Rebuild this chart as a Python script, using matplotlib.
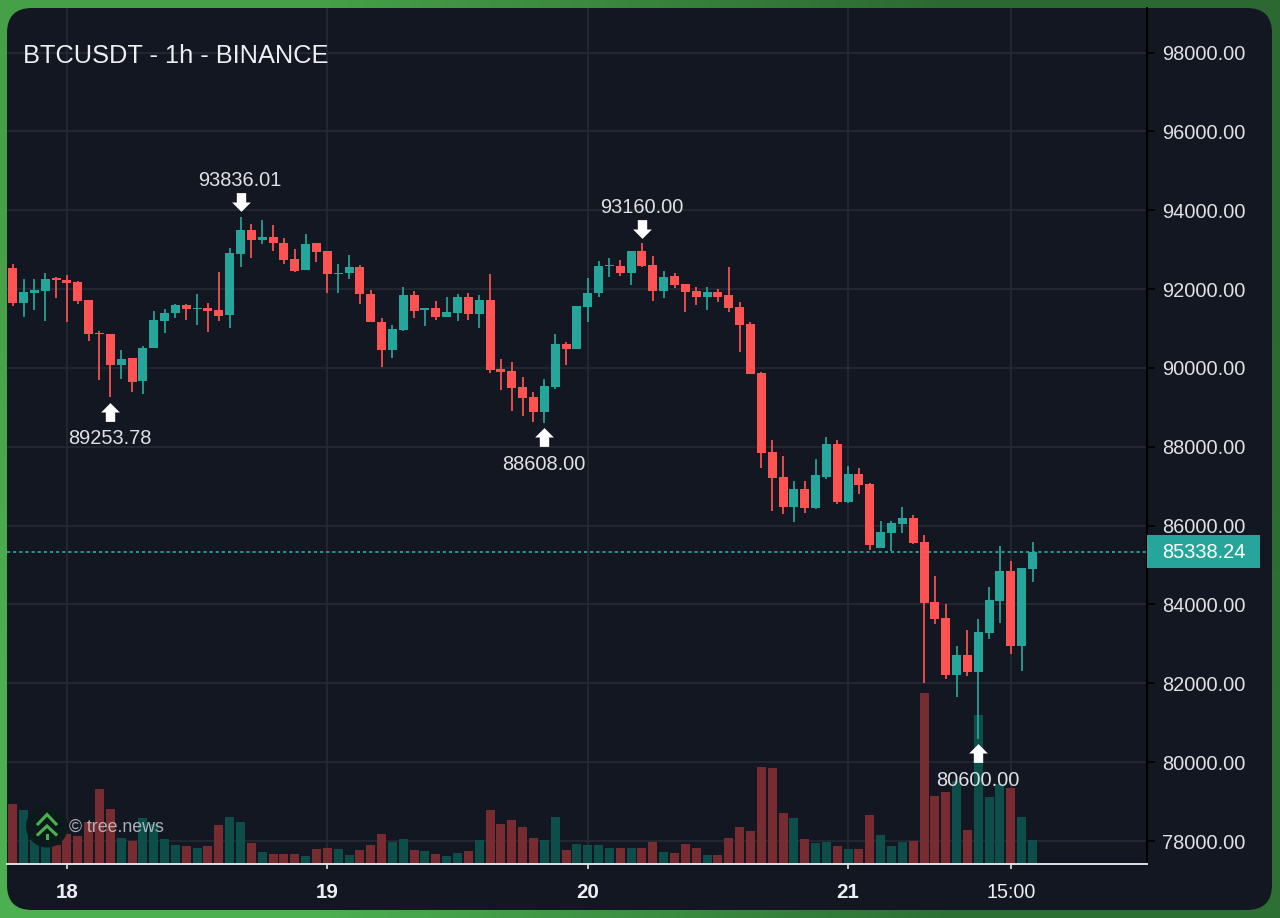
#!/usr/bin/env python3

import numpy as np
import matplotlib
matplotlib.use('Agg')
import matplotlib.pyplot as plt
from matplotlib.patches import FancyBboxPatch, Circle, Rectangle
from matplotlib.path import Path
from matplotlib.transforms import offset_copy

plt.rcParams['font.family'] = ['Liberation Sans', 'DejaVu Sans']

opens = [92546, 91656, 91908, 91958, 92269, 92227, 92176, 91723, 90891, 90866,
         90085, 90244, 89656, 90496, 91194, 91387, 91588, 91496, 91521, 91471,
         91336, 92890, 93504, 93235, 93319, 93176, 92764, 92479, 93168, 92958,
         92386, 92412, 92571, 91882, 91177, 90446, 90967, 91857, 91462, 91513,
         91294, 91404, 91798, 91378, 91714, 89967, 89925, 89513, 89262, 88884,
         89505, 90606, 90471, 91544, 91890, 92575, 92592, 92414, 92963, 92608,
         91949, 92321, 92127, 91949, 91789, 91932, 91839, 91544, 91104, 89879,
         87868, 87234, 86482, 86930, 86440, 87234, 88079, 86609, 87302, 87052,
         85427, 85823, 86051, 86194, 85579, 84055, 83659, 82203, 82725, 82295,
         83280, 84097, 84846, 82935, 84905]
highs = [92647, 92244, 92244, 92395, 92294, 92361, 92210, 91723, 90925, 90866,
         90463, 90244, 90547, 91446, 91488, 91630, 91614, 91882, 91656, 92445,
         93033, 93836, 93655, 93756, 93613, 93285, 93025, 93403, 93168, 92958,
         92630, 92857, 92613, 91975, 91261, 91101, 92042, 91941, 91513, 91698,
         91790, 91882, 91908, 91857, 92378, 90236, 90152, 89766, 89396, 89715,
         90858, 90648, 91580, 92287, 92718, 92794, 92735, 92972, 93160, 92837,
         92448, 92414, 92127, 92059, 92042, 91992, 92549, 91679, 91155, 89904,
         88172, 87775, 87141, 87141, 87682, 88257, 88172, 87505, 87454, 87069,
         86126, 86126, 86463, 86261, 85756, 84720, 84013, 82935, 83348, 83634,
         84442, 85478, 85099, 84922, 85579]
lows = [91572, 91286, 91471, 91202, 91773, 91168, 91614, 90673, 89698, 89253,
        89724, 89388, 89337, 90496, 90883, 91261, 91219, 91084, 90900, 91194,
        91000, 92563, 92798, 93142, 92966, 92638, 92437, 92479, 92697, 91899,
        91899, 92252, 91630, 91152, 90018, 90261, 90933, 91261, 91068, 91219,
        91294, 91202, 91227, 91017, 89883, 89446, 88900, 88783, 88632, 88608,
        89455, 90068, 90471, 91172, 91806, 92296, 92338, 92110, 92549, 91687,
        91772, 92017, 91425, 91586, 91468, 91670, 91425, 90411, 89837, 87462,
        86381, 86288, 86094, 86313, 86415, 87192, 86558, 86575, 86812, 85369,
        85427, 85352, 85823, 85545, 82000, 83516, 82102, 81664, 82186, 80600,
        83129, 83533, 82733, 82320, 84560]
closes = [91656, 91924, 91966, 92244, 92227, 92151, 91706, 90866, 90849, 90085,
          90236, 89648, 90513, 91219, 91404, 91597, 91496, 91530, 91446, 91328,
          92907, 93504, 93235, 93319, 93168, 92748, 92462, 93151, 92932, 92386,
          92420, 92563, 91866, 91152, 90446, 90992, 91857, 91446, 91513, 91286,
          91420, 91790, 91370, 91714, 89950, 89908, 89488, 89245, 88875, 89530,
          90614, 90480, 91563, 91907, 92592, 92600, 92397, 92963, 92592, 91949,
          92313, 92101, 91924, 91789, 91932, 91806, 91510, 91079, 89837, 87851,
          87209, 86474, 86930, 86457, 87276, 88079, 86592, 87302, 87031, 85512,
          85832, 86059, 86194, 85562, 84030, 83634, 82203, 82725, 82295, 83297,
          84114, 84846, 82935, 84922, 85338]
volumes = [60, 54, 25, 23, 19, 30, 28, 42, 75, 55,
           26, 23, 46, 40, 25, 19, 18, 16, 18, 39,
           47, 42, 21, 12, 10, 10, 10, 8, 15, 16,
           15, 9, 14, 19, 30, 22, 25, 14, 13, 10,
           8, 11, 13, 24, 54, 40, 44, 37, 26, 24,
           47, 14, 20, 19, 19, 16, 16, 16, 16, 22,
           12, 11, 20, 16, 9, 9, 26, 37, 33, 97,
           96, 51, 46, 25, 21, 22, 18, 15, 15, 49,
           29, 18, 22, 23, 171, 68, 72, 83, 34, 149,
           67, 80, 76, 47, 24]

price_ticks = [98000, 96000, 94000, 92000, 90000, 88000, 86000, 84000, 82000, 80000, 78000]
time_ticks = [5, 29, 53, 77, 92]
time_labels = ['18', '19', '20', '21', '15:00']
last_price = 85338.24

high_marks = [(21, 93836.01), (58, 93160.00)]
low_marks = [(9, 89253.78), (49, 88608.00), (89, 80600.00)]

UP = '#26a69a'
DOWN = '#ff5252'
BG = '#131722'
TEXT = '#dfe1e5'
GRID = '#262a35'

W, H = 1280, 918
YMIN, YMAX = 77417, 99129
fig = plt.figure(figsize=(W / 100, H / 100), dpi=100)

# border gradient and rounded panel, in pixel coords
back = fig.add_axes([0, 0, 1, 1], zorder=0)
back.set_xlim(0, W)
back.set_ylim(H, 0)
back.axis('off')
grad = np.array([[[70, 160, 72], [44, 104, 50]],
                 [[76, 175, 80], [44, 112, 52]]], dtype=np.uint8)
back.imshow(grad, extent=(0, W, H, 0), aspect='auto', interpolation='bilinear')
back.add_patch(FancyBboxPatch((32, 33), 1215, 852, boxstyle='round,pad=25,rounding_size=25',
                              fc=BG, ec='none'))

ax = fig.add_axes([7 / W, (H - 864) / H, 1140 / W, 856 / H], zorder=2)
ax.patch.set_visible(False)
ax.set_xlim(-0.525, 104.55)
ax.set_ylim(YMIN, YMAX)

idx = np.arange(len(opens))
is_up = np.array(closes) >= np.array(opens)

# volume sits in the bottom of the price pane, scaled to price units
vol_scale = (YMAX - YMIN) / 856
ax.bar(idx, np.array(volumes) * vol_scale, bottom=YMIN, width=0.83,
       color=['#0d524e' if u else '#7f2e33' for u in is_up], alpha=0.93, linewidth=0, zorder=1)

candle_colors = [UP if u else DOWN for u in is_up]
ax.vlines(idx, lows, highs, colors=candle_colors, linewidth=1.25, zorder=3)
ax.bar(idx, np.abs(np.array(closes) - np.array(opens)), bottom=np.minimum(opens, closes),
       width=0.83, color=candle_colors, linewidth=0, zorder=4)

ax.grid(True, color=GRID, linewidth=1.2)
ax.set_axisbelow(True)

ax.yaxis.tick_right()
ax.set_yticks(price_ticks)
ax.set_yticklabels(['%.2f' % p for p in price_ticks], fontsize=14.4, color=TEXT)
ax.tick_params(axis='y', length=5.8, width=1.2, color='black', pad=5.3)
ax.set_xticks(time_ticks)
ax.set_xticklabels(time_labels, fontsize=14.2, color='#eceef2')
for lab in ax.get_xticklabels()[:4]:
    lab.set_fontweight('bold')
    lab.set_fontsize(14.8)
ax.tick_params(axis='x', length=3.6, width=1.2, color=TEXT, pad=10)

for side in ['top', 'left']:
    ax.spines[side].set_visible(False)
ax.spines['right'].set_color('black')
ax.spines['right'].set_linewidth(1.5)
ax.spines['bottom'].set_color(TEXT)
ax.spines['bottom'].set_linewidth(1.4)

ax.axhline(last_price, color=UP, linewidth=1.3, linestyle=(0, (1.7, 1.7)), zorder=2)

# signal arrows
arrow_up = Path([(0, 0.5), (0.5, 0), (0.25, 0), (0.25, -0.5), (-0.25, -0.5), (-0.25, 0), (-0.5, 0), (0, 0.5)], closed=True)
arrow_down = Path([(0, -0.5), (0.5, 0), (0.25, 0), (0.25, 0.5), (-0.25, 0.5), (-0.25, 0), (-0.5, 0), (0, -0.5)], closed=True)
for i, p in high_marks:
    tr = offset_copy(ax.transData, fig=fig, y=14.7, units='dots')
    ax.plot([i], [p], marker=arrow_down, markersize=13.5, color='white', mew=0, transform=tr, zorder=6)
    ax.annotate('%.2f' % p, (i, p), xytext=(-0.4, 26), textcoords='offset points',
                ha='center', va='center', fontsize=14.4, color=TEXT, zorder=7)
for i, p in low_marks:
    tr = offset_copy(ax.transData, fig=fig, y=-14.7, units='dots')
    ax.plot([i], [p], marker=arrow_up, markersize=13.5, color='white', mew=0, transform=tr, zorder=6)
    ax.annotate('%.2f' % p, (i, p), xytext=(-0.4, -30), textcoords='offset points',
                ha='center', va='center', fontsize=14.4, color=TEXT, zorder=7)

# overlay for title, price tag and logo
top = fig.add_axes([0, 0, 1, 1], zorder=3)
top.set_xlim(0, W)
top.set_ylim(H, 0)
top.axis('off')
top.patch.set_visible(False)

top.text(23, 56, 'BTCUSDT - 1h - BINANCE', fontsize=18.25, color='#eceef2', va='center', ha='left')

top.add_patch(Rectangle((1147, 535), 113, 33, fc=UP, ec='none'))
top.text(1203.5, 552, '%.2f' % last_price, fontsize=14.4, color='white', ha='center', va='center')

top.add_patch(Circle((47, 826.5), 21, fc='#0d1a1b', ec='none'))
logo_green = '#4caf50'
top.plot([38, 47, 56], [824, 814.5, 824], color=logo_green, linewidth=2.2, solid_joinstyle='miter')
top.plot([38, 47, 56], [834.5, 826, 834.5], color=logo_green, linewidth=2.2, solid_joinstyle='miter')
top.plot([47, 47], [835, 838], color=logo_green, linewidth=2.2)
top.text(69, 827, '\u00a9 tree.news', fontsize=12.8, color='#c8cbd1', alpha=0.85, va='center', ha='left')

fig.savefig('out.png', dpi=100)
